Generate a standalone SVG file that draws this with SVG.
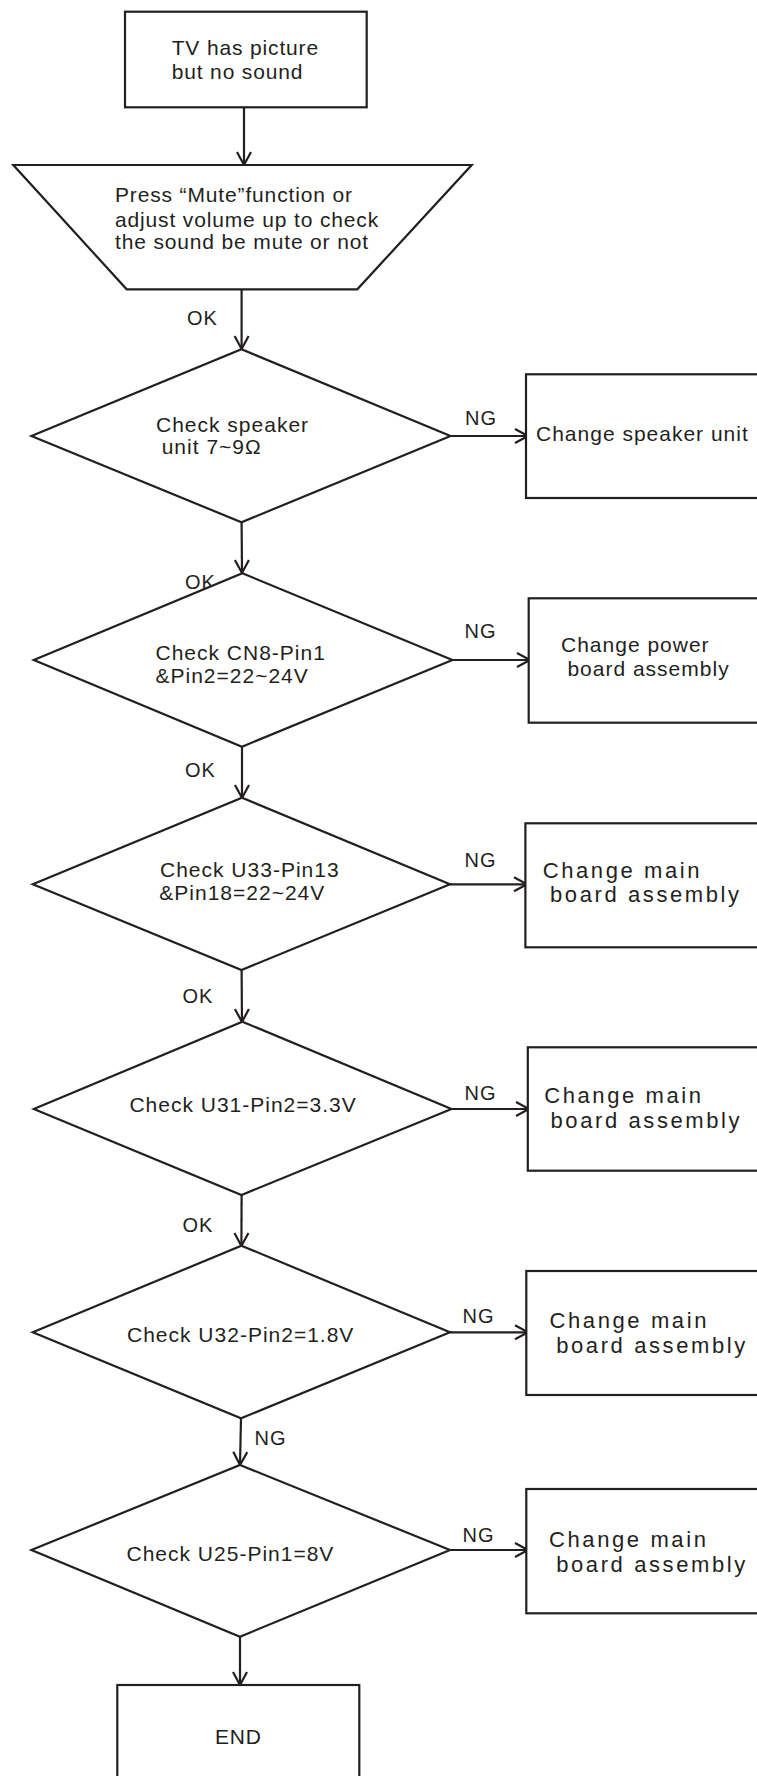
<svg xmlns="http://www.w3.org/2000/svg" width="757" height="1776" viewBox="0 0 757 1776">
<defs>
<style>
.shape{fill:#fff;stroke:#231f20;stroke-width:2.2}
.conn{fill:none;stroke:#231f20;stroke-width:2.2}
text{font-family:"Liberation Sans",Arial,sans-serif;fill:#231f20}
.t1{font-size:21px;letter-spacing:0.85px}
.d{font-size:21px;letter-spacing:1px}
.b{font-size:21px;letter-spacing:1px}
.bm{font-size:22px;letter-spacing:2.6px}
.lbl{font-size:20px;letter-spacing:1px}
</style>
<marker id="arr" markerUnits="userSpaceOnUse" markerWidth="20" markerHeight="20" refX="14" refY="8" orient="auto" viewBox="0 0 20 16">
<path d="M1,1 L14,8 L1,15" fill="none" stroke="#231f20" stroke-width="2.2"/>
</marker>
</defs>
<rect width="757" height="1776" fill="#fff"/>

<g id="connectors">
<line class="conn" x1="244" y1="108" x2="244" y2="165" marker-end="url(#arr)"/>
<line class="conn" x1="241.6" y1="289" x2="241.6" y2="349" marker-end="url(#arr)"/>
<line class="conn" x1="241.6" y1="522" x2="242" y2="573" marker-end="url(#arr)"/>
<line class="conn" x1="242" y1="747" x2="242" y2="798" marker-end="url(#arr)"/>
<line class="conn" x1="241.6" y1="970" x2="242" y2="1022" marker-end="url(#arr)"/>
<line class="conn" x1="241.6" y1="1195" x2="241.4" y2="1246" marker-end="url(#arr)"/>
<line class="conn" x1="241" y1="1418" x2="240" y2="1465" marker-end="url(#arr)"/>
<line class="conn" x1="240" y1="1637" x2="240" y2="1685" marker-end="url(#arr)"/>
<line class="conn" x1="450.5" y1="436" x2="528" y2="436" marker-end="url(#arr)"/>
<line class="conn" x1="452.4" y1="660" x2="530" y2="660" marker-end="url(#arr)"/>
<line class="conn" x1="450" y1="884.3" x2="527" y2="884.3" marker-end="url(#arr)"/>
<line class="conn" x1="451.5" y1="1109" x2="529" y2="1109" marker-end="url(#arr)"/>
<line class="conn" x1="450" y1="1332.3" x2="528" y2="1332.3" marker-end="url(#arr)"/>
<line class="conn" x1="450" y1="1550" x2="528" y2="1550" marker-end="url(#arr)"/>
<text class="lbl" x="187" y="325">OK</text>
<text class="lbl" x="185" y="589">OK</text>
<text class="lbl" x="185" y="777">OK</text>
<text class="lbl" x="182.5" y="1003">OK</text>
<text class="lbl" x="182.5" y="1231.5">OK</text>
<text class="lbl" x="254.5" y="1445">NG</text>
<text class="lbl" x="465" y="425">NG</text>
<text class="lbl" x="464.5" y="638.3">NG</text>
<text class="lbl" x="464.5" y="866.7">NG</text>
<text class="lbl" x="464.5" y="1100">NG</text>
<text class="lbl" x="462.6" y="1323.3">NG</text>
<text class="lbl" x="462.6" y="1541.7">NG</text>
</g>

<g id="start">
<rect class="shape" x="125" y="11.7" width="241.7" height="95.6"/>
<text class="t1" x="171.7" y="55">TV has picture</text>
<text class="t1" x="171.7" y="79">but no sound</text>
</g>

<g id="mute-check">
<polygon class="shape" points="13.3,165 471.7,165 357.3,289.3 126.7,289.3"/>
<text class="t1" x="115" y="202.3">Press “Mute”function or</text>
<text class="t1" x="115" y="226.7">adjust volume up to check</text>
<text class="t1" x="115" y="249.3">the sound be mute or not</text>
</g>

<g id="d1">
<polygon class="shape" points="241.5,349.3 450.5,436 241.5,522.3 31.4,436"/>
<text class="d" x="156" y="431.7">Check speaker</text>
<text class="d" x="161.7" y="454.3">unit 7~9Ω</text>
</g>

<g id="d2">
<polygon class="shape" points="242.4,573.3 452.4,660 242,746.7 33.8,660"/>
<text class="d" x="155.5" y="660">Check CN8-Pin1</text>
<text class="d" x="155.5" y="683.3">&amp;Pin2=22~24V</text>
</g>

<g id="d3">
<polygon class="shape" points="242,797.7 450,884.3 241.5,970 32.8,884.3"/>
<text class="d" x="160" y="877.3">Check U33-Pin13</text>
<text class="d" x="159.3" y="900">&amp;Pin18=22~24V</text>
</g>

<g id="d4">
<polygon class="shape" points="242.4,1021.7 451.5,1109 241.5,1195 33.8,1109"/>
<text class="d" x="129.4" y="1111.7">Check U31-Pin2=3.3V</text>
</g>

<g id="d5">
<polygon class="shape" points="241.4,1245.7 450,1332.3 241,1418.3 32.8,1332.3"/>
<text class="d" x="127" y="1342.3">Check U32-Pin2=1.8V</text>
</g>

<g id="d6">
<polygon class="shape" points="240,1465 450,1550 240,1636.7 31.4,1550"/>
<text class="d" x="126.5" y="1560.7">Check U25-Pin1=8V</text>
</g>

<g id="b1">
<rect class="shape" x="526" y="374.3" width="260" height="123.7"/>
<text class="b" x="536" y="441">Change speaker unit</text>
</g>

<g id="b2">
<rect class="shape" x="528.7" y="598.3" width="260" height="124.4"/>
<text class="b" x="561" y="651.7">Change power</text>
<text class="b" x="567.4" y="676">board assembly</text>
</g>

<g id="b3">
<rect class="shape" x="525.4" y="823.3" width="260" height="124"/>
<text class="bm" x="542.7" y="878">Change main</text>
<text class="bm" x="550" y="901.7">board assembly</text>
</g>

<g id="b4">
<rect class="shape" x="527.8" y="1047.3" width="260" height="123.4"/>
<text class="bm" x="544.2" y="1103.3">Change main</text>
<text class="bm" x="550.5" y="1127.7">board assembly</text>
</g>

<g id="b5">
<rect class="shape" x="526.3" y="1271" width="260" height="124"/>
<text class="bm" x="549.5" y="1328.3">Change main</text>
<text class="bm" x="556.2" y="1353.3">board assembly</text>
</g>

<g id="b6">
<rect class="shape" x="526.3" y="1489" width="260" height="124.3"/>
<text class="bm" x="549" y="1546.7">Change main</text>
<text class="bm" x="556.2" y="1571.7">board assembly</text>
</g>

<g id="end">
<rect class="shape" x="117.3" y="1685" width="242" height="110"/>
<text class="t1" x="215" y="1744.3">END</text>
</g>
</svg>
